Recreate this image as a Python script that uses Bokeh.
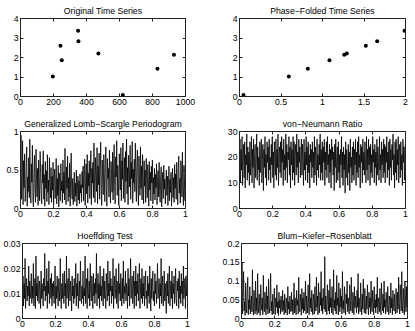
from bokeh.plotting import figure
from bokeh.layouts import column, row
from bokeh.models import Range1d, LinearAxis, FixedTicker
from bokeh.embed import file_html
from bokeh.resources import INLINE
import numpy as np

# ---------------- data ----------------
time_t = [196, 242, 250, 349, 351, 472, 620, 830, 930]
time_y = [1.03, 2.60, 1.86, 3.37, 2.83, 2.20, 0.08, 1.42, 2.14]

phase_x = [0.048, 0.594, 0.823, 1.084, 1.261, 1.293, 1.522, 1.659, 1.988]
phase_y = [0.08, 1.03, 1.42, 1.86, 2.14, 2.20, 2.60, 2.83, 3.37]

gls = [0.48, 0.95, 0.12, 0.36, 0.88, 0.05, 0.62, 0.27, 0.71, 0.09, 0.18, 0.55, 0.80, 0.03, 0.41, 0.22, 0.66, 0.14, 0.90, 0.31,
       0.07, 0.58, 0.34, 0.82, 0.11, 0.02, 0.45, 0.69, 0.25, 0.08, 0.77, 0.38, 0.15, 0.52, 0.04, 0.63, 0.29, 0.10, 0.74, 0.40,
       0.19, 0.06, 0.57, 0.33, 0.75, 0.12, 0.44, 0.03, 0.61, 0.26, 0.49, 0.09, 0.70, 0.21, 0.37, 0.05, 0.66, 0.30, 0.14, 0.53,
       0.08, 0.42, 0.24, 0.60, 0.04, 0.35, 0.51, 0.13, 0.28, 0.65, 0.06, 0.39, 0.17, 0.56, 0.02, 0.46, 0.31, 0.10, 0.58, 0.23,
       0.36, 0.07, 0.63, 0.20, 0.47, 0.11, 0.78, 0.32, 0.05, 0.54, 0.26, 0.68, 0.09, 0.40, 0.15, 0.59, 0.03, 0.44, 0.72, 0.18,
       0.12, 0.39, 0.05, 0.28, 0.47, 0.09, 0.33, 0.16, 0.50, 0.03, 0.25, 0.42, 0.11, 0.36, 0.06, 0.45, 0.20, 0.31, 0.08, 0.48,
       0.27, 0.55, 0.10, 0.41, 0.64, 0.04, 0.35, 0.58, 0.19, 0.70, 0.07, 0.46, 0.29, 0.62, 0.13, 0.38, 0.75, 0.05, 0.52, 0.33,
       0.60, 0.14, 0.85, 0.37, 0.08, 0.66, 0.43, 0.22, 0.79, 0.06, 0.55, 0.31, 0.72, 0.12, 0.48, 0.86, 0.25, 0.04, 0.63, 0.40,
       0.18, 0.70, 0.45, 0.09, 0.58, 0.80, 0.27, 0.03, 0.65, 0.39, 0.52, 0.15, 0.76, 0.34, 0.07, 0.61, 0.44, 0.21, 0.73, 0.11,
       0.49, 0.83, 0.30, 0.06, 0.67, 0.41, 0.88, 0.17, 0.56, 0.36, 0.04, 0.71, 0.47, 0.24, 0.79, 0.10, 0.62, 0.38, 0.85, 0.13,
       0.42, 0.66, 0.08, 0.74, 0.35, 0.90, 0.19, 0.53, 0.05, 0.69, 0.46, 0.28, 0.82, 0.12, 0.60, 0.39, 0.87, 0.07, 0.51, 0.33,
       0.64, 0.22, 0.85, 0.45, 0.09, 0.58, 0.76, 0.31, 0.04, 0.68, 0.40, 0.17, 0.80, 0.26, 0.55, 0.11, 0.70, 0.37, 0.06, 0.62,
       0.29, 0.50, 0.08, 0.65, 0.36, 0.14, 0.57, 0.42, 0.03, 0.61, 0.24, 0.47, 0.10, 0.55, 0.33, 0.63, 0.06, 0.40, 0.19, 0.52,
       0.11, 0.44, 0.27, 0.58, 0.05, 0.36, 0.49, 0.15, 0.60, 0.22, 0.08, 0.41, 0.54, 0.02, 0.33, 0.47, 0.13, 0.56, 0.25, 0.38,
       0.06, 0.35, 0.50, 0.17, 0.42, 0.04, 0.29, 0.55, 0.10, 0.38, 0.21, 0.47, 0.03, 0.33, 0.52, 0.14, 0.40, 0.08, 0.57, 0.26,
       0.45, 0.12, 0.60, 0.31, 0.05, 0.53, 0.68, 0.20, 0.39, 0.07, 0.62, 0.48, 0.15, 0.73, 0.28, 0.04, 0.56, 0.35, 0.10, 0.88]

vn = [18, 27, 10, 23, 15, 28, 9, 20, 25, 12, 26, 8, 21, 17, 29, 11, 24, 14, 22, 9,
      26, 13, 19, 28, 10, 23, 16, 27, 8, 21, 25, 12, 18, 29, 11, 24, 15, 20, 9, 26,
      14, 22, 27, 10, 19, 25, 7, 23, 16, 28, 12, 21, 9, 26, 18, 24, 11, 27, 15, 20,
      10, 25, 17, 28, 12, 22, 8, 26, 19, 13, 27, 11, 23, 16, 29, 9, 21, 24, 14, 26,
      12, 28, 18, 23, 9, 27, 15, 21, 11, 29, 16, 25, 10, 22, 19, 28, 13, 24, 8, 26,
      17, 23, 11, 28, 14, 26, 9, 21, 25, 13, 29, 16, 22, 10, 27, 18, 24, 12, 20, 27,
      13, 25, 19, 9, 27, 15, 22, 11, 28, 17, 24, 10, 26, 14, 21, 8, 25, 18, 23, 12,
      26, 16, 22, 10, 28, 13, 24, 19, 9, 27, 15, 21, 12, 25, 17, 29, 11, 23, 14, 26,
      11, 24, 18, 27, 9, 22, 15, 26, 12, 28, 17, 21, 10, 25, 14, 23, 8, 27, 19, 24,
      13, 22, 7, 25, 16, 27, 10, 20, 24, 11, 26, 14, 21, 8, 23, 17, 28, 12, 22, 9,
      24, 15, 21, 6, 26, 12, 23, 18, 9, 25, 14, 22, 7, 27, 16, 20, 10, 24, 13, 26,
      11, 23, 17, 27, 9, 22, 14, 26, 12, 28, 16, 21, 8, 25, 18, 24, 10, 27, 15, 22,
      13, 26, 19, 10, 28, 15, 23, 11, 27, 17, 24, 9, 25, 14, 21, 12, 28, 18, 23, 10,
      25, 16, 22, 9, 27, 13, 24, 18, 11, 28, 15, 21, 10, 26, 17, 23, 12, 27, 14, 25,
      10, 24, 18, 28, 12, 22, 15, 26, 9, 27, 16, 23, 11, 25, 19, 29, 13, 21, 8, 26,
      14, 27, 11, 23, 17, 28, 10, 22, 25, 12, 26, 15, 21, 9, 27, 18, 24, 11, 23, 26]

hoeff = [0.010, 0.017, 0.005, 0.014, 0.008, 0.024, 0.004, 0.012, 0.016, 0.007, 0.013, 0.009, 0.021, 0.005, 0.015, 0.008, 0.011, 0.018, 0.006, 0.013,
         0.008, 0.022, 0.005, 0.011, 0.016, 0.004, 0.025, 0.009, 0.014, 0.007, 0.017, 0.010, 0.006, 0.015, 0.012, 0.004, 0.019, 0.008, 0.014, 0.009,
         0.005, 0.016, 0.011, 0.026, 0.007, 0.013, 0.009, 0.020, 0.004, 0.015, 0.010, 0.023, 0.006, 0.012, 0.016, 0.008, 0.018, 0.005, 0.014, 0.009,
         0.015, 0.006, 0.011, 0.021, 0.004, 0.013, 0.008, 0.017, 0.010, 0.005, 0.016, 0.012, 0.007, 0.024, 0.009, 0.004, 0.014, 0.008, 0.018, 0.011,
         0.006, 0.019, 0.009, 0.014, 0.004, 0.025, 0.008, 0.012, 0.016, 0.005, 0.020, 0.010, 0.007, 0.015, 0.011, 0.003, 0.017, 0.009, 0.013, 0.006,
         0.016, 0.008, 0.012, 0.022, 0.005, 0.014, 0.009, 0.018, 0.004, 0.011, 0.015, 0.007, 0.023, 0.010, 0.006, 0.013, 0.008, 0.019, 0.005, 0.012,
         0.009, 0.025, 0.006, 0.013, 0.016, 0.004, 0.020, 0.010, 0.008, 0.015, 0.005, 0.022, 0.011, 0.007, 0.017, 0.012, 0.004, 0.018, 0.009, 0.014,
         0.006, 0.016, 0.010, 0.026, 0.005, 0.012, 0.018, 0.008, 0.014, 0.004, 0.021, 0.009, 0.013, 0.007, 0.017, 0.011, 0.005, 0.020, 0.008, 0.015,
         0.010, 0.004, 0.018, 0.012, 0.007, 0.023, 0.009, 0.014, 0.005, 0.019, 0.011, 0.016, 0.006, 0.013, 0.009, 0.024, 0.004, 0.012, 0.017, 0.008,
         0.012, 0.020, 0.006, 0.015, 0.009, 0.004, 0.022, 0.010, 0.014, 0.007, 0.018, 0.011, 0.005, 0.016, 0.008, 0.023, 0.006, 0.013, 0.010, 0.019,
         0.007, 0.014, 0.011, 0.004, 0.020, 0.009, 0.016, 0.005, 0.013, 0.024, 0.008, 0.012, 0.017, 0.006, 0.010, 0.019, 0.004, 0.015, 0.009, 0.021,
         0.005, 0.015, 0.010, 0.018, 0.007, 0.013, 0.022, 0.004, 0.011, 0.016, 0.008, 0.020, 0.006, 0.014, 0.009, 0.017, 0.005, 0.012, 0.019, 0.008,
         0.011, 0.004, 0.017, 0.009, 0.014, 0.006, 0.021, 0.012, 0.003, 0.016, 0.008, 0.013, 0.019, 0.007, 0.011, 0.005, 0.018, 0.010, 0.015, 0.006,
         0.013, 0.022, 0.008, 0.011, 0.016, 0.004, 0.014, 0.009, 0.024, 0.006, 0.012, 0.017, 0.005, 0.010, 0.019, 0.007, 0.014, 0.008, 0.002, 0.015,
         0.009, 0.018, 0.006, 0.013, 0.021, 0.005, 0.011, 0.015, 0.008, 0.019, 0.004, 0.014, 0.010, 0.017, 0.006, 0.012, 0.020, 0.008, 0.005, 0.015,
         0.011, 0.016, 0.004, 0.019, 0.008, 0.013, 0.006, 0.018, 0.010, 0.015, 0.005, 0.021, 0.008, 0.012, 0.016, 0.004, 0.017, 0.009, 0.014, 0.020]

bkr = [0.030, 0.150, 0.012, 0.060, 0.125, 0.020, 0.045, 0.008, 0.095, 0.035, 0.015, 0.070, 0.110, 0.010, 0.050, 0.025, 0.085, 0.012, 0.040, 0.060,
       0.018, 0.130, 0.030, 0.009, 0.075, 0.045, 0.012, 0.100, 0.020, 0.055, 0.010, 0.120, 0.035, 0.015, 0.065, 0.028, 0.008, 0.090, 0.040, 0.022,
       0.055, 0.010, 0.115, 0.030, 0.018, 0.070, 0.042, 0.009, 0.085, 0.025, 0.060, 0.012, 0.105, 0.035, 0.015, 0.050, 0.120, 0.020, 0.045, 0.010,
       0.065, 0.025, 0.012, 0.080, 0.040, 0.010, 0.055, 0.030, 0.090, 0.015, 0.045, 0.008, 0.070, 0.028, 0.050, 0.012, 0.060, 0.035, 0.018, 0.075,
       0.022, 0.048, 0.010, 0.065, 0.030, 0.015, 0.055, 0.040, 0.009, 0.085, 0.025, 0.045, 0.012, 0.060, 0.035, 0.018, 0.070, 0.020, 0.050, 0.010,
       0.040, 0.095, 0.015, 0.055, 0.028, 0.010, 0.075, 0.035, 0.050, 0.012, 0.110, 0.030, 0.018, 0.065, 0.042, 0.009, 0.080, 0.025, 0.055, 0.015,
       0.070, 0.020, 0.045, 0.100, 0.012, 0.060, 0.035, 0.015, 0.090, 0.040, 0.010, 0.120, 0.028, 0.055, 0.018, 0.075, 0.032, 0.010, 0.065, 0.045,
       0.012, 0.085, 0.040, 0.020, 0.110, 0.030, 0.060, 0.010, 0.095, 0.045, 0.015, 0.070, 0.035, 0.125, 0.020, 0.055, 0.012, 0.080, 0.040, 0.025,
       0.165, 0.018, 0.060, 0.035, 0.010, 0.090, 0.045, 0.020, 0.075, 0.012, 0.105, 0.030, 0.055, 0.015, 0.085, 0.040, 0.010, 0.130, 0.028, 0.050,
       0.020, 0.070, 0.012, 0.115, 0.035, 0.055, 0.010, 0.095, 0.042, 0.018, 0.080, 0.030, 0.060, 0.012, 0.125, 0.025, 0.048, 0.015, 0.085, 0.035,
       0.010, 0.065, 0.040, 0.100, 0.018, 0.055, 0.030, 0.012, 0.090, 0.045, 0.020, 0.110, 0.035, 0.015, 0.070, 0.050, 0.010, 0.085, 0.028, 0.060,
       0.040, 0.015, 0.075, 0.030, 0.120, 0.012, 0.055, 0.035, 0.018, 0.095, 0.042, 0.010, 0.065, 0.025, 0.105, 0.045, 0.015, 0.080, 0.030, 0.012,
       0.060, 0.025, 0.090, 0.040, 0.010, 0.070, 0.030, 0.055, 0.012, 0.100, 0.035, 0.018, 0.075, 0.045, 0.010, 0.085, 0.028, 0.050, 0.015, 0.065,
       0.030, 0.110, 0.012, 0.055, 0.040, 0.018, 0.080, 0.035, 0.010, 0.095, 0.045, 0.020, 0.065, 0.015, 0.100, 0.030, 0.050, 0.012, 0.070, 0.040,
       0.018, 0.085, 0.035, 0.010, 0.060, 0.045, 0.015, 0.095, 0.028, 0.055, 0.010, 0.075, 0.040, 0.020, 0.065, 0.030, 0.012, 0.080, 0.050, 0.015,
       0.070, 0.025, 0.110, 0.040, 0.012, 0.090, 0.055, 0.020, 0.125, 0.035, 0.015, 0.080, 0.045, 0.010, 0.100, 0.060, 0.018, 0.085, 0.030, 0.105]

titles = ["Original Time Series", "Phase\u2212Folded Time Series",
          "Generalized Lomb\u2212Scargle Periodogram", "von\u2212Neumann Ratio",
          "Hoeffding Test", "Blum\u2212Kiefer\u2212Rosenblatt"]

t_ticks = [0, 200, 400, 600, 800, 1000]
t_labels = ["0", "200", "400", "600", "800", "1000"]
ph_ticks = [0, 0.5, 1, 1.5, 2]
ph_labels = ["0", "0.5", "1", "1.5", "2"]
f_ticks = [0, 0.2, 0.4, 0.6, 0.8, 1]
f_labels = ["0", "0.2", "0.4", "0.6", "0.8", "1"]
mag_ticks = [0, 1, 2, 3, 4]
mag_labels = ["0", "1", "2", "3", "4"]
gls_ticks = [0, 0.5, 1]
gls_labels = ["0", "0.5", "1"]
vn_ticks = [0, 10, 20, 30]
vn_labels = ["0", "10", "20", "30"]
hf_ticks = [0, 0.01, 0.02, 0.03]
hf_labels = ["0", "0.01", "0.02", "0.03"]
bkr_ticks = [0, 0.05, 0.1, 0.15, 0.2]
bkr_labels = ["0", "0.05", "0.1", "0.15", "0.2"]

FONT = "Liberation Sans"
FS = "8.7px"
BOX = "#222222"


def style_axis(ax, ticks, labels, show):
    ax.ticker = FixedTicker(ticks=ticks)
    ax.major_label_overrides = {t: (l if show else "") for t, l in zip(ticks, labels)}
    ax.major_tick_in = 3
    ax.major_tick_out = 0
    ax.minor_tick_in = 0
    ax.minor_tick_out = 0
    ax.major_tick_line_color = BOX
    ax.axis_line_color = BOX
    ax.major_label_text_font = FONT
    ax.major_label_text_font_size = FS if show else "0px"
    ax.major_label_text_color = "black"
    ax.major_label_standoff = 2 if show else 0


def make_fig(title, fw, fh, mb, xr, yr, xt, xl, yt, yl):
    p = figure(frame_width=fw, frame_height=fh, output_backend="svg", toolbar_location=None,
               x_range=Range1d(*xr), y_range=Range1d(*yr),
               min_border_left=mb[0], min_border_right=mb[1],
               min_border_top=mb[2], min_border_bottom=mb[3],
               title=title)
    p.title.align = "center"
    p.title.text_font = FONT
    p.title.text_font_size = FS
    p.title.text_font_style = "normal"
    p.title.text_color = "black"
    p.title.standoff = 6
    p.xgrid.visible = False
    p.ygrid.visible = False
    p.outline_line_color = BOX
    p.outline_line_alpha = 1
    style_axis(p.xaxis[0], xt, xl, True)
    style_axis(p.yaxis[0], yt, yl, True)
    top = LinearAxis()
    style_axis(top, xt, xl, False)
    p.add_layout(top, "above")
    right = LinearAxis()
    style_axis(right, yt, yl, False)
    p.add_layout(right, "right")
    return p


FWL, FWR = 165, 166
LEFT_B = (20, 30)
RIGHT_B = (24, 9)

p1 = make_fig(titles[0], FWL, 78, LEFT_B + (18, 16), (0, 1000), (0, 4),
              t_ticks, t_labels, mag_ticks, mag_labels)
p1.scatter(time_t, time_y, size=4, color="black", line_color=None)

p2 = make_fig(titles[1], FWR, 78, RIGHT_B + (18, 16), (0, 2), (0, 4),
              ph_ticks, ph_labels, mag_ticks, mag_labels)
p2.scatter(phase_x, phase_y, size=4, color="black", line_color=None)

LW = 0.8
f_gls = np.linspace(0, 1, len(gls))
p3 = make_fig(titles[2], FWL, 77, LEFT_B + (19, 16), (0, 1), (0, 1),
              f_ticks, f_labels, gls_ticks, gls_labels)
p3.line(f_gls, gls, line_width=LW, color="black")

f_vn = np.linspace(0, 1, len(vn))
p4 = make_fig(titles[3], FWR, 77, RIGHT_B + (19, 16), (0, 1), (0, 30),
              f_ticks, f_labels, vn_ticks, vn_labels)
p4.line(f_vn, vn, line_width=LW, color="black")

f_hf = np.linspace(0, 1, len(hoeff))
p5 = make_fig(titles[4], FWL, 75, LEFT_B + (19, 12), (0, 1), (0, 0.03),
              f_ticks, f_labels, hf_ticks, hf_labels)
p5.line(f_hf, hoeff, line_width=LW, color="black")

f_bkr = np.linspace(0, 1, len(bkr))
p6 = make_fig(titles[5], FWR, 75, RIGHT_B + (19, 12), (0, 1), (0, 0.2),
              f_ticks, f_labels, bkr_ticks, bkr_labels)
p6.line(f_bkr, bkr, line_width=LW, color="black")

layout = column(row(p1, p2), row(p3, p4), row(p5, p6))

open("out.html", "w").write(file_html(layout, INLINE))
